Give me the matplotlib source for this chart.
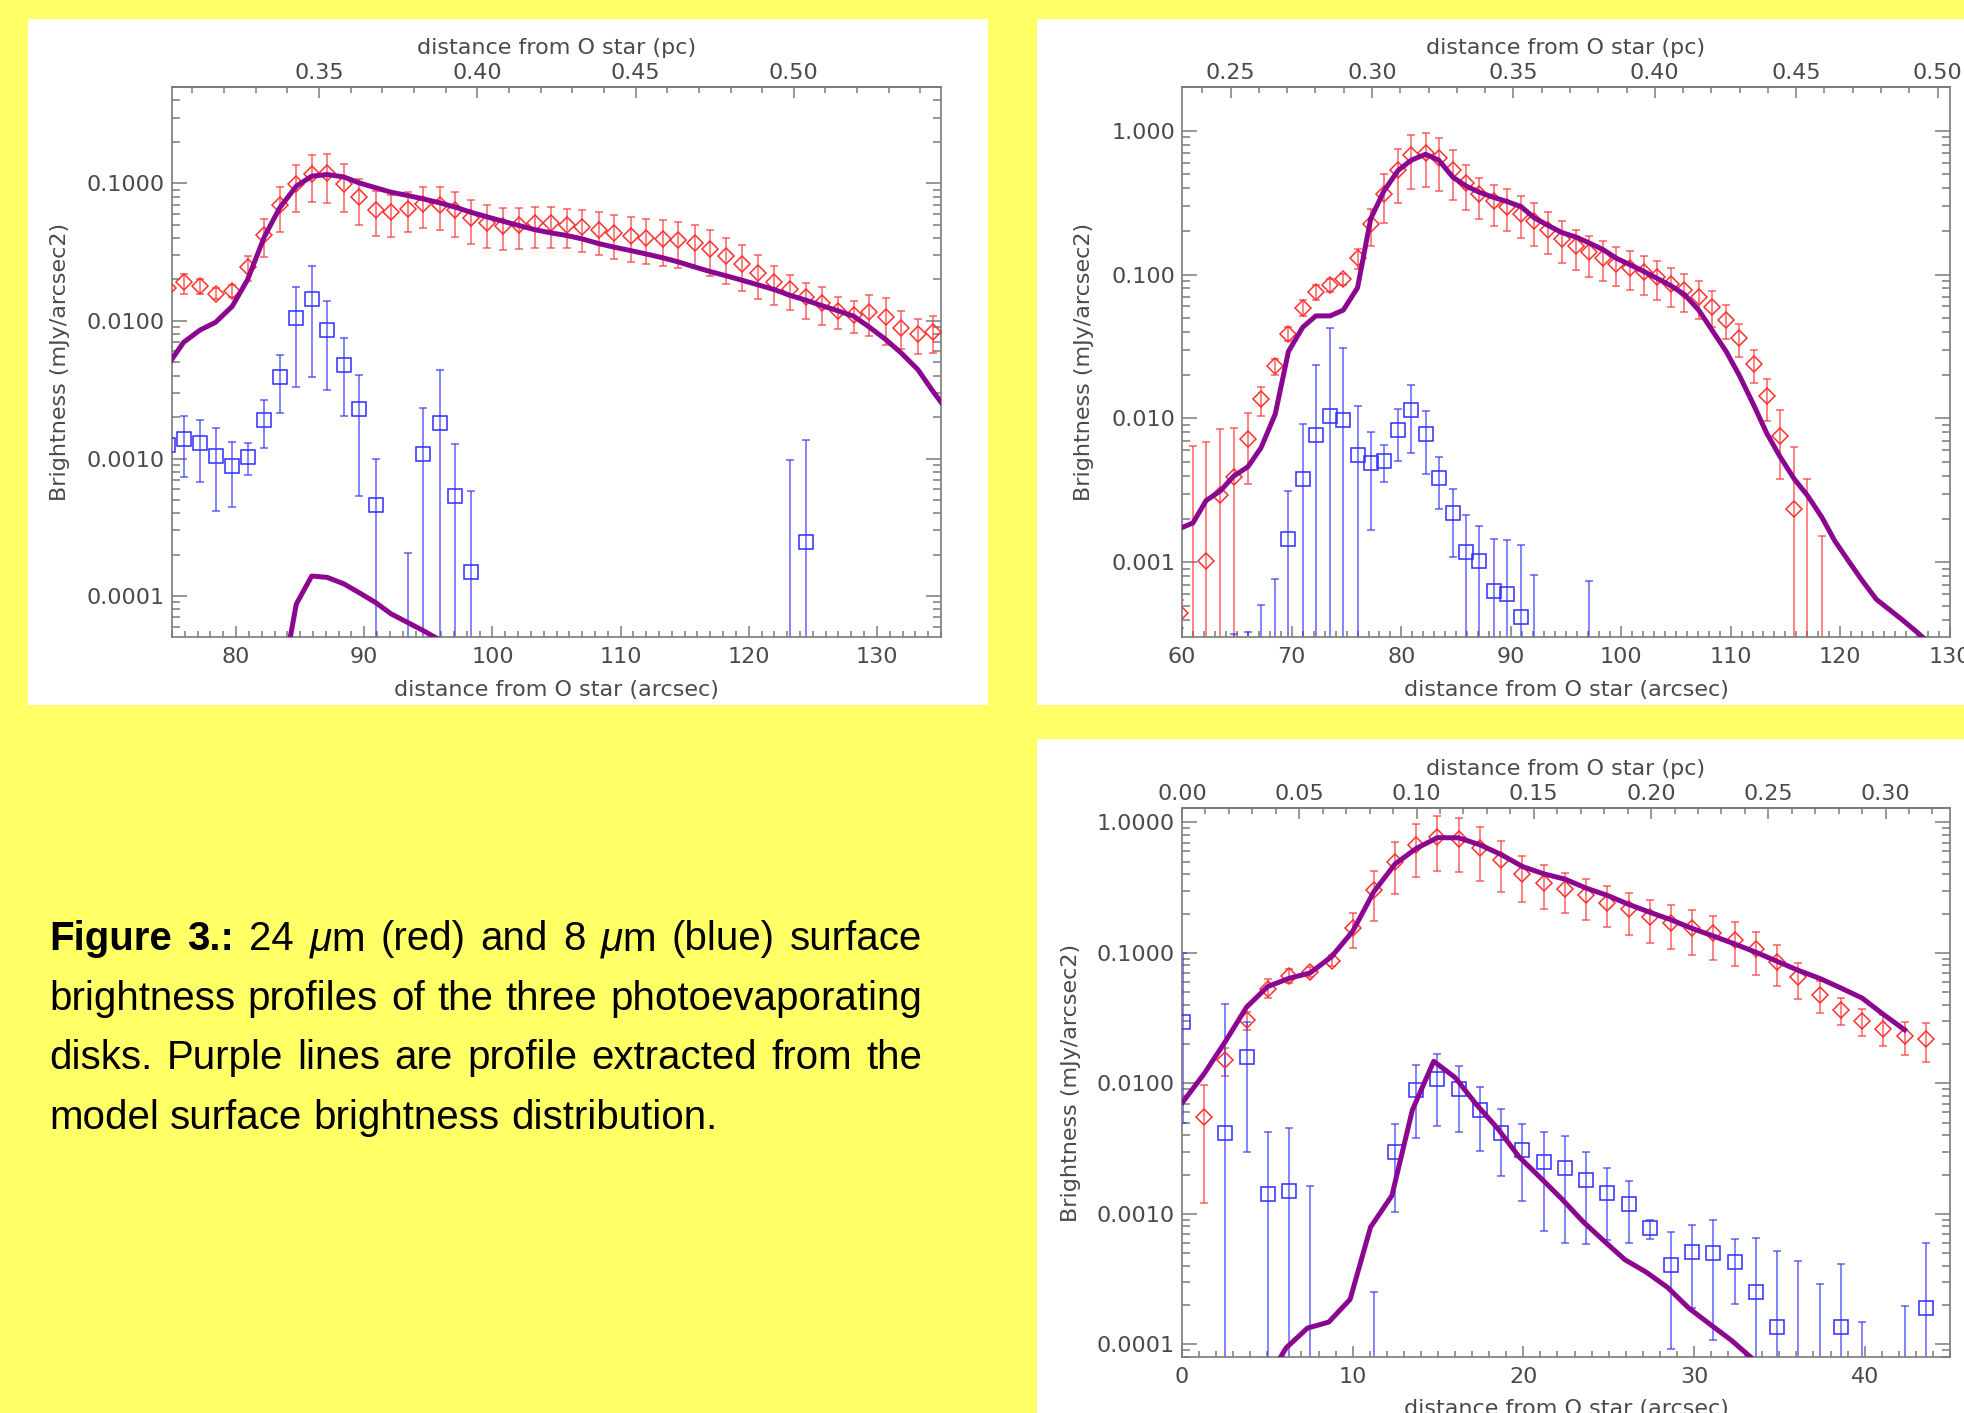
import numpy as np
import matplotlib
matplotlib.use("Agg")
import matplotlib.pyplot as plt
from matplotlib.patches import Rectangle
from matplotlib.ticker import MultipleLocator, LogLocator, NullFormatter

W, H = 1964, 1413
YELLOW = "#ffff66"
RED = "#ff2e2e"
BLUE = "#2e2eff"
PURPLE = "#8b078f"
GREY = "#7a7a7a"
TXT = "#4a4a4a"

plt.rcParams["font.family"] = ["DejaVu Sans"]
plt.rcParams["mathtext.fontset"] = "custom"
plt.rcParams["mathtext.rm"] = "Liberation Sans"
plt.rcParams["mathtext.it"] = "Liberation Sans:italic"

# ---------------- top left panel ----------------
p1_x = [74.7, 75.9, 77.2, 78.4, 79.7, 80.9, 82.2, 83.4, 84.7, 85.9,
        87.1, 88.4, 89.6, 90.9, 92.1, 93.4, 94.6, 95.9, 97.1, 98.3,
        99.6, 100.8, 102.1, 103.3, 104.6, 105.8, 107.0, 108.3, 109.5, 110.8,
        112.0, 113.3, 114.5, 115.8, 117.0, 118.2, 119.5, 120.7, 122.0, 123.2,
        124.5, 125.7, 127.0, 128.2, 129.4, 130.7, 131.9, 133.2, 134.4]
p1_red = [0.0173, 0.019, 0.0178, 0.0158, 0.0166, 0.0245, 0.0424, 0.070, 0.099, 0.1157,
          0.118, 0.0995, 0.079, 0.0644, 0.0616, 0.0652, 0.0711, 0.070, 0.0637, 0.056,
          0.0515, 0.0492, 0.050, 0.0515, 0.0515, 0.0498, 0.0482, 0.046, 0.0435, 0.0417,
          0.0403, 0.0394, 0.039, 0.0368, 0.0333, 0.0295, 0.026, 0.0223, 0.0192, 0.0169,
          0.0148, 0.0135, 0.0117, 0.011, 0.0116, 0.0107, 0.00887, 0.00807, 0.0083]
p1_red_hi = [0.0195, 0.022, 0.0202, 0.0174, 0.0183, 0.0294, 0.0551, 0.094, 0.135, 0.160,
             0.162, 0.138, 0.1076, 0.088, 0.0818, 0.086, 0.0935, 0.0935, 0.086, 0.076,
             0.0692, 0.0666, 0.0662, 0.0673, 0.0673, 0.0655, 0.0644, 0.062, 0.0585, 0.0566,
             0.0547, 0.0538, 0.0523, 0.0498, 0.0456, 0.0398, 0.0354, 0.030, 0.0252, 0.0214,
             0.0189, 0.0176, 0.0148, 0.0139, 0.0154, 0.0147, 0.0117, 0.0103, 0.0108]
p1_red_lo = [0.0155, 0.0158, 0.0156, 0.0143, 0.0148, 0.0196, 0.029, 0.0439, 0.0623, 0.0733,
             0.072, 0.0623, 0.0498, 0.0412, 0.0407, 0.0441, 0.0469, 0.0458, 0.0407, 0.0364,
             0.0339, 0.0326, 0.0333, 0.034, 0.034, 0.0338, 0.0319, 0.0301, 0.0282, 0.0268,
             0.0259, 0.0251, 0.0242, 0.0242, 0.0211, 0.0185, 0.0165, 0.0144, 0.0130, 0.0120,
             0.0104, 0.0094, 0.0087, 0.0081, 0.0077, 0.0067, 0.0062, 0.0057, 0.0058]

p1_blue_x = [74.7, 75.9, 77.2, 78.4, 79.7, 80.9, 82.2, 83.4, 84.7, 85.9, 87.1,
             88.4, 89.6, 90.9, 93.4, 94.6, 95.9, 97.1, 98.3, 123.2, 124.5]
p1_blue = [0.00126, 0.00138, 0.00129, 0.00105, 0.000885, 0.00103, 0.00191, 0.00391, 0.0105, 0.0145, 0.00853,
           0.0048, 0.0023, 0.000458, None, 0.00108, 0.00181, 0.000536, 0.000151, None, 0.000249]
p1_blue_hi = [0.00214, 0.00202, 0.00189, 0.00166, 0.00132, 0.0013, 0.00264, 0.00561, 0.0176, 0.0249, 0.01387,
              0.00755, 0.00402, 0.001, 0.000207, 0.00232, 0.0044, 0.00128, 0.000582, 0.00097, 0.00137]
p1_blue_lo = [0.000423, 0.000733, 0.000673, 0.000417, 0.000443, 0.000757, 0.00119, 0.00214, 0.0033, 0.00388, 0.00316,
              0.00202, 0.000538, 0, 0, 0, 0, 0, 0, 0, 0]

p1_mod24_x = p1_x + [135.7]
p1_mod24 = [0.0048, 0.00698, 0.00859, 0.00976, 0.01276, 0.01995, 0.0407, 0.0662, 0.0952, 0.1125,
            0.1157, 0.111, 0.1006, 0.0926, 0.086, 0.0814, 0.0769, 0.072, 0.067, 0.0616,
            0.0569, 0.053, 0.0492, 0.046, 0.0435, 0.0417, 0.0394, 0.0364, 0.0343, 0.0324,
            0.0306, 0.0287, 0.0268, 0.0246, 0.0228, 0.0213, 0.0197, 0.0183, 0.01686, 0.01534,
            0.0141, 0.0129, 0.0118, 0.0108, 0.00902, 0.0073, 0.00584, 0.00442, 0.00305, 0.0021]
p1_mod8_x = [83.4, 84.7, 85.9, 87.1, 88.4, 89.6, 90.9, 92.1, 93.4, 94.6, 95.9]
p1_mod8 = [1.9e-5, 8.77e-5, 1.40e-4, 1.37e-4, 1.23e-4, 1.06e-4, 8.97e-5, 7.43e-5, 6.43e-5, 5.62e-5, 4.8e-5]

# ---------------- top right panel ----------------
p2_x = [59.8, 61.0, 62.2, 63.5, 64.7, 66.0, 67.2, 68.5, 69.7, 71.0,
        72.2, 73.5, 74.7, 76.0, 77.2, 78.4, 79.7, 80.9, 82.2, 83.4,
        84.7, 85.9, 87.1, 88.4, 89.6, 90.9, 92.1, 93.4, 94.6, 95.9,
        97.1, 98.4, 99.6, 100.8, 102.1, 103.3, 104.6, 105.8, 107.1, 108.3,
        109.6, 110.8, 112.1, 113.3, 114.5, 115.8, 117.0, 118.3, 119.5, 120.8,
        122.0, 123.3, 124.5, 125.7, 127.0, 128.2]
p2_red = [4.43e-4, None, 0.00103, 0.00292, 0.00395, 0.00717, 0.01367, 0.02307, 0.0388, 0.0589,
          0.0759, 0.0843, 0.093, 0.1297, 0.225, 0.365, 0.529, 0.678, 0.697, 0.642,
          0.529, 0.436, 0.365, 0.322, 0.2966, 0.2655, 0.235, 0.2037, 0.1766, 0.157,
          0.1425, 0.1297, 0.1193, 0.111, 0.104, 0.0958, 0.0858, 0.0776, 0.0695, 0.0599,
          0.0486, 0.0361, 0.0239, 0.0143, 0.00758, 0.00236, None, None]
p2_red_hi = [5.5e-4, 0.00641, 0.0069, 0.00845, 0.0086, 0.01083, 0.01667, 0.0259, 0.043, 0.0662,
             0.0843, 0.093, 0.101, 0.151, 0.287, 0.497, 0.745, 0.927, 0.97, 0.893,
             0.728, 0.581, 0.471, 0.417, 0.391, 0.35, 0.313, 0.271, 0.235, 0.2037,
             0.1855, 0.1707, 0.1563, 0.1455, 0.1356, 0.124, 0.1117, 0.101, 0.0895, 0.0763,
             0.0612, 0.045, 0.030, 0.0188, 0.01146, 0.00635, 0.0038, 0.00153]
p2_red_lo = [3.5e-4, 0, 0, 0, 0, 0.0035, 0.01043, 0.0202, 0.0345, 0.0516,
             0.0669, 0.0756, 0.0848, 0.110, 0.159, 0.229, 0.313, 0.391, 0.406, 0.38,
             0.327, 0.2805, 0.2416, 0.218, 0.2014, 0.1806, 0.157, 0.1384, 0.1206, 0.1068,
             0.0967, 0.0895, 0.083, 0.0776, 0.0726, 0.0662, 0.0599, 0.0545, 0.0491, 0.043,
             0.0355, 0.0269, 0.0176, 0.0096, 0.0038, 0, 0, 0]

p2_blue_x = [64.7, 66.0, 67.2, 68.5, 69.7, 71.0, 72.2, 73.5, 74.7, 76.0, 77.2, 78.4,
             79.7, 80.9, 82.2, 83.4, 84.7, 85.9, 87.1, 88.4, 89.6, 90.9, 92.1, 97.1]
p2_blue = [None, None, None, None, 0.00145, 0.0038, 0.00766, 0.0104, 0.0098, 0.0056, 0.00487, 0.00506,
           0.00832, 0.01146, 0.0078, 0.00386, 0.00219, 0.00119, 0.00103, 6.34e-4, 6.0e-4, 4.15e-4, None, None]
p2_blue_hi = [3.2e-4, 3.3e-4, 5.08e-4, 7.67e-4, 0.00314, 0.0092, 0.0234, 0.0425, 0.0309, 0.0123, 0.008, 0.00649,
              0.0116, 0.0171, 0.0113, 0.00538, 0.00326, 0.00213, 0.00179, 0.00146, 0.00143, 0.00133, 8.12e-4, 7.39e-4]
p2_blue_lo = [0, 0, 0, 0, 0, 0, 0, 0, 0, 0, 0.00169, 0.0036,
              0.00509, 0.00574, 0.00413, 0.00234, 0.00109, 0, 0, 0, 0, 0, 0, 0]

p2_mod24 = [0.00172, 0.00188, 0.00269, 0.00314, 0.00397, 0.00461, 0.00625, 0.01073, 0.0292, 0.043,
            0.0516, 0.0516, 0.0566, 0.081, 0.2443, 0.38, 0.529, 0.624, 0.685, 0.624,
            0.474, 0.412, 0.373, 0.3437, 0.322, 0.2966, 0.248, 0.2188, 0.196, 0.1823,
            0.166, 0.1487, 0.1297, 0.1174, 0.105, 0.0941, 0.0833, 0.0726, 0.0566, 0.0412,
            0.0292, 0.0199, 0.01244, 0.00788, 0.00544, 0.0038, 0.00292, 0.00207, 0.00141, 0.00101,
            7.47e-4, 5.52e-4, 4.68e-4, 3.96e-4, 3.27e-4, 2.7e-4]

# ---------------- bottom right panel ----------------
p3_x = [0.05, 1.29, 2.54, 3.78, 5.02, 6.27, 7.51, 8.76, 10.0, 11.24,
        12.49, 13.73, 14.97, 16.22, 17.46, 18.71, 19.95, 21.19, 22.44, 23.68,
        24.92, 26.17, 27.41, 28.66, 29.90, 31.14, 32.39, 33.63, 34.87, 36.12,
        37.36, 38.61, 39.85, 41.09, 42.34, 43.58]
p3_red_x = p3_x[1:]
p3_red = [0.0055, 0.0152, 0.0303, 0.0527, 0.0667, 0.0715, 0.086, 0.1555, 0.303, 0.498,
          0.672, 0.773, 0.739, 0.631, 0.511, 0.403, 0.34, 0.307, 0.2755, 0.2427,
          0.2163, 0.188, 0.169, 0.1536, 0.1413, 0.126, 0.106, 0.0849, 0.065, 0.0479,
          0.0367, 0.0301, 0.0262, 0.0231, 0.022]
p3_red_hi = [0.00976, 0.0187, 0.0349, 0.0625, 0.0747, 0.0782, 0.0964, 0.203, 0.422, 0.702,
             0.965, 1.117, 1.07, 0.917, 0.725, 0.554, 0.467, 0.411, 0.3667, 0.327,
             0.288, 0.2537, 0.2305, 0.211, 0.193, 0.171, 0.1439, 0.1138, 0.0838, 0.0606,
             0.045, 0.0371, 0.0331, 0.0297, 0.0292]
p3_red_lo = [0.00121, 0.0114, 0.0254, 0.045, 0.0587, 0.0658, 0.0787, 0.108, 0.1766, 0.281,
             0.379, 0.422, 0.414, 0.353, 0.29, 0.2455, 0.2163, 0.2005, 0.1788, 0.1585,
             0.137, 0.1183, 0.1075, 0.0964, 0.0888, 0.0796, 0.068, 0.0561, 0.0444, 0.0344,
             0.0279, 0.0231, 0.0193, 0.0164, 0.01457]

p3_blue_x = [0.05, 2.54, 3.78, 5.02, 6.27, 7.51, 11.24, 12.49, 13.73, 14.97, 16.22, 17.46,
             18.71, 19.95, 21.19, 22.44, 23.68, 24.92, 26.17, 27.41, 28.66, 29.90, 31.14, 32.39,
             33.63, 34.87, 36.12, 37.36, 38.61, 39.85, 42.34, 43.58]
p3_blue = [0.0294, 0.00414, 0.0158, 0.00141, 0.00149, None, None, 0.003, 0.00887, 0.01073, 0.00898, 0.00625,
           0.00419, 0.00306, 0.00248, 0.00226, 0.00181, 0.00145, 0.00118, 7.76e-4, 4.05e-4, 5.06e-4, 5.0e-4, 4.26e-4,
           2.51e-4, 1.35e-4, None, None, 1.36e-4, None, None, 1.91e-4]
p3_blue_hi = [0.0995, 0.0403, 0.0297, 0.00421, 0.00455, 0.00164, 2.51e-4, 0.00491, 0.01384, 0.01675, 0.0136, 0.00934,
              0.00633, 0.00491, 0.00421, 0.00393, 0.003, 0.00223, 0.00177, 8.98e-4, 7.19e-4, 8.26e-4, 8.98e-4, 6.41e-4,
              6.53e-4, 5.22e-4, 4.38e-4, 2.91e-4, 4.13e-4, 1.49e-4, 1.97e-4, 5.94e-4]
p3_blue_lo = [0.005, 0, 0.00295, 0, 0, 0, 0, 0.00103, 0.0038, 0.0047, 0.00421, 0.00305,
              0.00195, 0.00126, 7.42e-4, 5.94e-4, 5.82e-4, 6.33e-4, 6.01e-4, 6.41e-4, 9.25e-5, 1.91e-4, 1.08e-4, 2.05e-4,
              0, 0, 0, 0, 0, 0, 0, 0]

p3_mod24_x = p3_x[:35]
p3_mod24 = [0.00719, 0.0118, 0.0209, 0.0383, 0.0551, 0.0637, 0.0701, 0.0933, 0.146, 0.2937,
            0.48, 0.631, 0.763, 0.760, 0.672, 0.565, 0.458, 0.403, 0.3667, 0.313,
            0.2755, 0.235, 0.2046, 0.1788, 0.1536, 0.1343, 0.1168, 0.1009, 0.086, 0.0733,
            0.0637, 0.0537, 0.045, 0.0338, 0.0257]
p3_mod8_x = [4.85, 6.1, 7.35, 8.6, 9.85, 11.05, 12.3, 13.5, 14.75, 16.0, 17.25, 18.5,
             19.75, 21.0, 22.25, 23.5, 24.7, 25.95, 27.2, 28.45, 29.7, 30.95, 32.2, 33.45]
p3_mod8 = [5e-5, 9.38e-5, 1.33e-4, 1.48e-4, 2.21e-4, 7.91e-4, 0.00138, 0.00625, 0.01475, 0.01108, 0.00688, 0.0045,
           0.00273, 0.00189, 0.0013, 8.7e-4, 6.24e-4, 4.45e-4, 3.57e-4, 2.73e-4, 1.89e-4, 1.42e-4, 1.07e-4, 7.7e-5]

caption = [
    ["Figure", "3.:", "24", "$\\mu$m", "(red)", "and", "8", "$\\mu$m", "(blue)", "surface"],
    ["brightness", "profiles", "of", "the", "three", "photoevaporating"],
    ["disks.", "Purple", "lines", "are", "profile", "extracted", "from", "the"],
    ["model", "surface", "brightness", "distribution."],
]


def arr(v):
    return np.array([np.nan if a is None else a for a in v], dtype=float)


def points(ax, x, y, lo, hi, color, marker, ms):
    x = np.array(x)
    lo = np.clip(arr(lo), 1e-9, None)
    hi = arr(hi)
    ax.vlines(x, lo, hi, color=color, lw=1.1, alpha=0.75, zorder=2)
    ax.plot(x, hi, ls="none", marker="_", ms=5.5, mew=1.1, color=color, alpha=0.75, zorder=2)
    ax.plot(x, lo, ls="none", marker="_", ms=5.5, mew=1.1, color=color, alpha=0.75, zorder=2)
    ax.plot(x, arr(y), ls="none", marker=marker, ms=ms, mfc="none", mec=color, mew=1.1, zorder=3)


def frame(ax, xlim, ylim, xt, yt, ylab, k, pct, ylab_x):
    ax.set_yscale("log")
    ax.set_xlim(xlim)
    ax.set_ylim(ylim)
    ax.set_xticks(xt)
    ax.xaxis.set_minor_locator(MultipleLocator(1))
    ax.set_yticks(yt)
    ax.set_yticklabels(ylab)
    ax.yaxis.set_minor_locator(LogLocator(base=10, subs=np.arange(2, 10)))
    ax.yaxis.set_minor_formatter(NullFormatter())
    ax.tick_params(which="both", direction="in", color=GREY, labelcolor=TXT, labelsize=16)
    ax.tick_params(axis="y", which="major", length=11, width=1.1, right=True, pad=5)
    ax.tick_params(axis="y", which="minor", length=5.5, width=1.1, right=True)
    ax.tick_params(axis="x", which="major", length=8, width=1.1, top=False, pad=7)
    ax.tick_params(axis="x", which="minor", length=4, width=1.1, top=False)
    for s in ax.spines.values():
        s.set_color(GREY)
        s.set_linewidth(1.2)
    ax.set_xlabel("distance from O star (arcsec)", fontsize=16, color=TXT)
    ax.xaxis.set_label_coords(0.5, -0.097)
    ax.xaxis.label.set_va("center")
    ax.set_ylabel("Brightness (mJy/arcsec2)", fontsize=16, color=TXT)
    ax.yaxis.set_label_coords(ylab_x, 0.5)
    ax.yaxis.label.set_va("center")

    sec = ax.secondary_xaxis("top", functions=(lambda a: a * k, lambda p: p / k))
    sec.set_xticks(pct)
    sec.set_xticklabels(["%.2f" % p for p in pct])
    sec.xaxis.set_minor_locator(MultipleLocator(0.01))
    sec.tick_params(which="both", direction="in", color=GREY, labelcolor=TXT, labelsize=16)
    sec.tick_params(which="major", length=8, width=1.1, pad=3)
    sec.tick_params(which="minor", length=4, width=1.1)
    sec.spines["top"].set_color(GREY)
    sec.spines["top"].set_linewidth(1.2)
    ax.text(0.5, 1.071, "distance from O star (pc)", transform=ax.transAxes,
            ha="center", va="center", fontsize=16, color=TXT)


def place(l, t, r, b):
    return [l / W, 1 - b / H, (r - l) / W, (b - t) / H]


fig = plt.figure(figsize=(W / 100, H / 100), dpi=100, facecolor=YELLOW)
for (l, t, r, b) in [(28, 19, 988, 705), (1037, 19, 1964, 705), (1037, 739, 1964, 1413)]:
    fig.patches.append(Rectangle((l / W, 1 - b / H), (r - l) / W, (b - t) / H,
                                 transform=fig.transFigure, facecolor="white",
                                 edgecolor="none", zorder=-10))

# top left
ax1 = fig.add_axes(place(172, 87, 941, 637))
frame(ax1, (75, 135), (5.05e-5, 0.5), [80, 90, 100, 110, 120, 130],
      [1e-4, 1e-3, 1e-2, 1e-1], ["0.0001", "0.0010", "0.0100", "0.1000"],
      0.004048, [0.35, 0.40, 0.45, 0.50], -0.145)
points(ax1, p1_x, p1_red, p1_red_lo, p1_red_hi, RED, "D", 8)
points(ax1, p1_blue_x, p1_blue, p1_blue_lo, p1_blue_hi, BLUE, "s", 9.5)
ax1.plot(p1_mod24_x, p1_mod24, color=PURPLE, lw=3.6, zorder=4)
ax1.plot(p1_mod8_x, p1_mod8, color=PURPLE, lw=3.6, zorder=4)

# top right
ax2 = fig.add_axes(place(1182, 87, 1950, 637))
frame(ax2, (60, 130), (3.03e-4, 2.01), [60, 70, 80, 90, 100, 110, 120, 130],
      [1e-3, 1e-2, 1e-1, 1.0], ["0.001", "0.010", "0.100", "1.000"],
      0.00388, [0.25, 0.30, 0.35, 0.40, 0.45, 0.50], -0.127)
points(ax2, p2_x[:48], p2_red, p2_red_lo, p2_red_hi, RED, "D", 8)
points(ax2, p2_blue_x, p2_blue, p2_blue_lo, p2_blue_hi, BLUE, "s", 9.5)
ax2.plot(p2_x, p2_mod24, color=PURPLE, lw=3.6, zorder=4)

# bottom right
ax3 = fig.add_axes(place(1182, 808, 1950, 1357))
frame(ax3, (0, 45), (7.99e-5, 1.287), [0, 10, 20, 30, 40],
      [1e-4, 1e-3, 1e-2, 1e-1, 1.0], ["0.0001", "0.0010", "0.0100", "0.1000", "1.0000"],
      0.007277, [0.00, 0.05, 0.10, 0.15, 0.20, 0.25, 0.30], -0.145)
ax3.xaxis.set_label_coords(0.5, -0.095)
points(ax3, p3_red_x, p3_red, p3_red_lo, p3_red_hi, RED, "D", 8.3)
points(ax3, p3_blue_x, p3_blue, p3_blue_lo, p3_blue_hi, BLUE, "s", 10)
ax3.plot(p3_mod24_x, p3_mod24, color=PURPLE, lw=3.6, zorder=4)
ax3.plot(p3_mod8_x, p3_mod8, color=PURPLE, lw=3.6, zorder=4)

# caption, justified like the original
renderer = fig.canvas.get_renderer()
x0, x1 = 49, 922
baselines = [950, 1010, 1069, 1129]
for li, words in enumerate(caption):
    arts = []
    for j, w in enumerate(words):
        bold = li == 0 and j < 2
        arts.append(fig.text(0, 1 - baselines[li] / H, w, fontsize=29,
                             family="Liberation Sans", color="black",
                             fontweight="bold" if bold else "normal",
                             ha="left", va="baseline"))
    widths = [a.get_window_extent(renderer).width for a in arts]
    if li < len(caption) - 1:
        gap = (x1 - x0 - sum(widths)) / (len(arts) - 1)
    else:
        gap = 11.2
    x = x0
    for a, w in zip(arts, widths):
        a.set_x(x / W)
        x += w + gap

fig.savefig("out.png", dpi=100, facecolor=YELLOW)
